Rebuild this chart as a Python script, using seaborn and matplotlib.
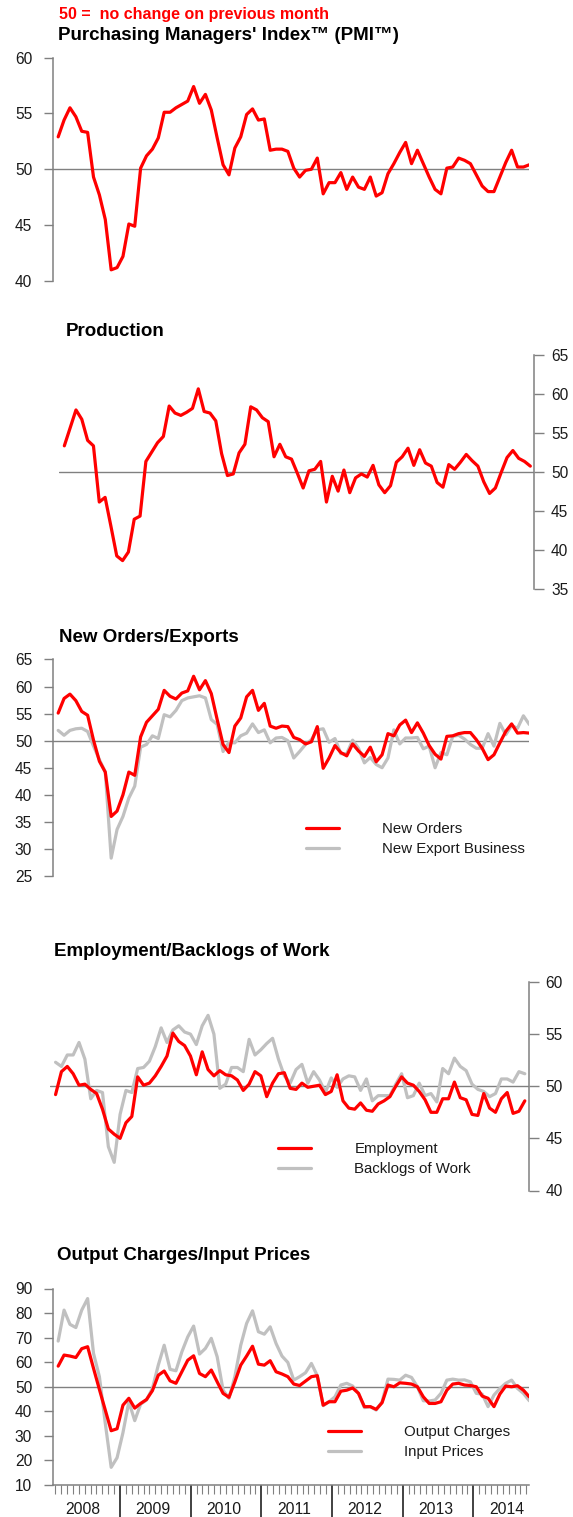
import numpy as np
import pandas as pd
import matplotlib
matplotlib.use("Agg")
import matplotlib.pyplot as plt
import matplotlib.transforms as mtransforms
import seaborn as sns

sns.set_style("white")
plt.rcParams["font.family"] = ["Liberation Sans", "DejaVu Sans"]

# monthly survey readings, Feb 2008 - Oct 2014
pmi = [52.9, 54.4, 55.5, 54.7, 53.4, 53.3, 49.3, 47.7, 45.5, 41.0, 41.2, 42.2,
       45.1, 44.9, 50.1, 51.2, 51.8, 52.8, 55.1, 55.1, 55.5, 55.8, 56.1, 57.4,
       55.9, 56.7, 55.3, 52.8, 50.4, 49.5, 51.9, 52.9, 54.9, 55.4, 54.4, 54.5,
       51.7, 51.8, 51.8, 51.6, 50.1, 49.3, 49.9, 50.0, 51.0, 47.8, 48.8, 48.8,
       49.7, 48.2, 49.3, 48.4, 48.2, 49.3, 47.6, 47.9, 49.6, 50.5, 51.5, 52.4,
       50.5, 51.7, 50.5, 49.3, 48.2, 47.8, 50.1, 50.2, 51.0, 50.8, 50.5, 49.5,
       48.5, 48.0, 48.0, 49.3, 50.6, 51.7, 50.2, 50.2, 50.4]
production = [53.3, 55.6, 57.9, 56.7, 54.0, 53.3, 46.1, 46.7, 43.0, 39.2, 38.6, 39.7,
              43.9, 44.3, 51.3, 52.5, 53.7, 54.5, 58.4, 57.5, 57.2, 57.6, 58.1, 60.6,
              57.7, 57.5, 56.5, 52.3, 49.5, 49.7, 52.4, 53.5, 58.3, 57.9, 56.9, 56.4,
              51.9, 53.5, 51.9, 51.6, 49.8, 47.9, 50.1, 50.3, 51.3, 46.1, 49.4, 47.5,
              50.2, 47.3, 49.2, 49.7, 49.3, 50.8, 48.3, 47.3, 48.2, 51.2, 51.9, 53.0,
              50.8, 52.8, 51.1, 50.7, 48.6, 48.0, 50.9, 50.3, 51.2, 52.2, 51.4, 50.7,
              48.7, 47.2, 47.9, 49.9, 51.8, 52.7, 51.7, 51.3, 50.7]
new_orders = [55.1, 57.8, 58.6, 57.4, 55.4, 54.7, 50.1, 46.2, 44.2, 36.0, 37.0, 40.0,
              44.2, 43.6, 50.7, 53.4, 54.6, 55.8, 59.3, 58.2, 57.7, 58.8, 59.2, 61.9,
              59.4, 61.1, 58.7, 53.9, 49.3, 47.8, 52.7, 54.2, 58.1, 59.3, 55.6, 56.9,
              52.7, 52.3, 52.7, 52.6, 50.6, 50.2, 49.4, 49.8, 52.6, 44.9, 46.8, 49.1,
              47.8, 47.2, 49.4, 48.1, 47.1, 48.8, 46.1, 47.4, 51.3, 50.9, 52.9, 53.8,
              51.5, 53.3, 51.4, 49.1, 47.5, 46.6, 50.8, 50.9, 51.3, 51.5, 51.5, 50.2,
              48.6, 46.5, 47.4, 49.6, 51.7, 53.1, 51.4, 51.5, 51.4]
new_exports = [51.9, 51.0, 51.9, 52.2, 52.3, 51.7, 49.0, 46.5, 44.2, 28.3, 33.6, 36.0,
               39.4, 41.6, 48.8, 49.3, 50.9, 50.4, 54.8, 54.4, 55.6, 57.4, 57.9, 58.1,
               58.3, 57.9, 53.9, 53.0, 48.0, 49.7, 49.6, 50.9, 51.4, 53.1, 51.5, 52.0,
               49.6, 50.5, 50.6, 50.0, 46.8, 48.0, 49.3, 50.2, 52.0, 52.2, 49.7, 50.4,
               47.6, 47.6, 50.1, 48.6, 45.9, 46.9, 45.6, 45.0, 46.8, 52.0, 49.4, 50.5,
               50.5, 50.6, 48.5, 49.0, 45.0, 47.8, 47.4, 50.8, 51.0, 50.3, 49.3, 48.6,
               48.6, 51.3, 49.0, 53.2, 51.1, 52.8, 52.3, 54.6, 53.0]
employment = [49.2, 51.4, 51.9, 51.2, 50.1, 50.2, 49.7, 49.3, 47.8, 45.9, 45.4, 45.0,
              46.5, 47.1, 50.9, 50.1, 50.3, 51.0, 51.9, 52.9, 55.1, 54.3, 53.9, 52.9,
              51.1, 53.3, 51.6, 51.0, 51.5, 51.1, 51.0, 50.6, 49.6, 50.2, 51.4, 51.0,
              49.0, 50.3, 51.2, 51.3, 49.8, 49.7, 50.3, 49.9, 50.0, 50.1, 49.2, 49.5,
              51.1, 48.6, 47.9, 47.8, 48.4, 47.7, 47.6, 48.3, 48.6, 49.0, 50.0, 50.9,
              50.3, 50.1, 49.5, 48.7, 47.5, 47.5, 48.8, 48.8, 50.4, 48.9, 48.7, 47.3,
              47.2, 49.3, 47.9, 47.5, 48.8, 49.4, 47.4, 47.6, 48.6]
backlogs = [52.3, 51.9, 53.0, 53.0, 54.2, 52.6, 48.8, 49.6, 49.4, 44.2, 42.7, 47.3,
            49.6, 49.4, 51.7, 51.8, 52.4, 53.8, 55.6, 54.2, 55.4, 55.8, 55.2, 55.0,
            54.0, 55.8, 56.8, 55.0, 49.8, 50.2, 51.8, 51.8, 51.4, 54.5, 53.0, 53.5,
            54.1, 54.6, 52.6, 51.0, 50.3, 51.6, 52.1, 50.3, 51.4, 50.6, 49.4, 50.8,
            49.9, 50.7, 51.0, 50.9, 49.6, 50.7, 48.6, 49.1, 49.1, 49.1, 50.2, 51.2,
            48.9, 49.1, 50.3, 49.1, 49.3, 48.5, 51.7, 51.2, 52.7, 51.9, 51.5, 50.2,
            49.7, 49.5, 49.0, 49.3, 50.7, 50.7, 50.4, 51.4, 51.2]
output_charges = [58.4, 62.9, 62.5, 61.9, 65.5, 66.3, 57.5, 48.9, 40.5, 32.1, 32.9, 42.5,
                  45.3, 41.3, 43.2, 44.8, 48.4, 54.7, 56.4, 52.4, 51.4, 56.1, 60.8, 62.6,
                  55.4, 54.1, 56.8, 52.0, 47.3, 45.7, 52.0, 58.8, 62.5, 66.5, 59.2, 58.8,
                  60.6, 56.1, 55.2, 54.1, 51.1, 50.5, 52.3, 54.1, 54.5, 42.5, 43.9, 43.9,
                  48.2, 48.6, 49.5, 47.3, 41.9, 41.9, 40.8, 43.5, 50.7, 50.0, 51.6, 51.4,
                  51.1, 50.0, 45.9, 43.2, 43.2, 43.9, 48.6, 51.1, 51.4, 50.7, 50.5, 50.0,
                  46.2, 45.3, 41.9, 47.0, 50.3, 50.0, 50.4, 48.6, 45.9]
input_prices = [68.6, 81.2, 75.4, 74.1, 81.2, 85.9, 63.6, 54.1, 35.1, 17.2, 21.1, 31.3,
                43.9, 36.2, 42.9, 44.6, 49.3, 58.8, 66.9, 57.1, 56.5, 64.2, 70.3, 74.7,
                63.3, 65.6, 69.7, 62.2, 48.6, 45.3, 54.1, 66.9, 75.8, 80.9, 72.4, 71.4,
                74.4, 67.6, 62.5, 59.9, 52.7, 54.1, 55.7, 59.5, 54.5, 42.3, 43.9, 45.9,
                50.7, 51.4, 50.3, 47.3, 41.5, 41.9, 40.5, 43.9, 53.1, 53.0, 52.7, 54.7,
                53.8, 50.0, 44.3, 44.2, 44.6, 47.3, 52.7, 53.1, 52.7, 52.8, 52.0, 47.3,
                47.0, 41.9, 46.6, 49.3, 51.4, 52.7, 49.3, 47.3, 44.3]
years = ["2008", "2009", "2010", "2011", "2012", "2013", "2014"]

RED = "#ff0000"
GREY = "#c0c0c0"
W, H = 573, 1517
XMIN, XMAX = 0.57, 81.5           # month index, Jan 2008 = 0
XMIN_R, XMAX_R = 0.62, 82.13      # right-axis panels run a little past the data
xpos = np.arange(len(pmi)) + 1.5  # data at month centres, first = Feb 2008

fig = plt.figure(figsize=(W / 100, H / 100), dpi=100)


def add_ax(left, right, top, bottom):
    return fig.add_axes([left / W, 1 - bottom / H, (right - left) / W, (bottom - top) / H])


def title(x, y, s, size=13.5, color="black"):
    fig.text(x / W, 1 - y / H, s, ha="left", va="center", fontsize=size,
             fontweight="bold", color=color)


def draw(ax, series, ylim, step, side):
    ax.axhline(50, color="#808080", lw=1.0, zorder=1)
    for lab, vals, col in series:
        df = pd.DataFrame({"x": xpos, "y": vals})
        sns.lineplot(data=df, x="x", y="y", ax=ax, color=col, linewidth=2.3,
                     label=lab, legend=False, zorder=3 if col == RED else 2)
    if side == "right":
        ax.set_xlim(XMIN_R, XMAX_R)
    else:
        ax.set_xlim(XMIN, XMAX)
    ax.set_ylim(*ylim)
    ax.set_yticks(np.arange(ylim[0], ylim[1] + 0.1, step))
    ax.set_xlabel("")
    ax.set_ylabel("")
    ax.set_xticks([])
    for s in ax.spines.values():
        s.set_visible(False)
    sp = ax.spines[side]
    sp.set_visible(True)
    sp.set_color("#808080")
    sp.set_linewidth(1.1)
    if side == "right":
        ax.yaxis.tick_right()
        ax.tick_params(axis="y", right=True, left=False, length=7.2, pad=5)
    else:
        ax.tick_params(axis="y", left=True, right=False, length=6.8, pad=8)
    ax.tick_params(axis="y", direction="out", width=1.0, color="#808080",
                   labelsize=11.2, labelcolor="#1a1a1a")
    ax.patch.set_alpha(0)


def legend(ax, x, y):
    h, l = ax.get_legend_handles_labels()
    red_first = sorted(range(len(h)), key=lambda i: h[i].get_color() != RED)
    leg = ax.legend([h[i] for i in red_first], [l[i] for i in red_first],
                    loc="upper left", bbox_to_anchor=(x / W, 1 - y / H),
                    bbox_transform=fig.transFigure, frameon=False, fontsize=10.8,
                    handlelength=2.2, handletextpad=2.9, labelspacing=0.4,
                    borderpad=0, borderaxespad=0)
    for t in leg.get_texts():
        t.set_color("#1a1a1a")


# Purchasing Managers' Index
title(59, 14, "50 =  no change on previous month", size=11.5, color=RED)
title(58, 36, "Purchasing Managers' Index\u2122 (PMI\u2122)")
ax1 = add_ax(52.7, 529.3, 57.5, 281)
draw(ax1, [(None, pmi, RED)], (40, 60), 5, "left")

# Production
title(66, 332, "Production")
ax2 = add_ax(59.2, 534, 354.5, 588.7)
draw(ax2, [(None, production, RED)], (35, 65), 5, "right")

# New Orders / Exports
title(59, 637, "New Orders/Exports")
ax3 = add_ax(52.7, 529.3, 659.5, 876)
draw(ax3, [("New Export Business", new_exports, GREY), ("New Orders", new_orders, RED)],
     (25, 65), 5, "left")
legend(ax3, 306, 822)

# Employment / Backlogs of Work
title(54, 951, "Employment/Backlogs of Work")
ax4 = add_ax(50.4, 528.5, 982, 1190.5)
draw(ax4, [("Backlogs of Work", backlogs, GREY), ("Employment", employment, RED)],
     (40, 60), 5, "right")
legend(ax4, 278, 1142)

# Output Charges / Input Prices
title(57, 1255, "Output Charges/Input Prices")
ax5 = add_ax(52.7, 529.3, 1288.5, 1485)
draw(ax5, [("Input Prices", input_prices, GREY), ("Output Charges", output_charges, RED)],
     (10, 90), 10, "left")
legend(ax5, 328, 1425)

# month ticks and year dividers under the last panel
ax5.spines["bottom"].set_visible(True)
ax5.spines["bottom"].set_color("#808080")
ax5.spines["bottom"].set_linewidth(1.1)
ax5.set_xticks(np.arange(12, 80, 12))
ax5.set_xticks(np.arange(1, 82), minor=True)
ax5.tick_params(axis="x", which="major", bottom=True, direction="out", length=24,
                width=1.3, color="#333333", labelbottom=False)
ax5.tick_params(axis="x", which="minor", bottom=True, direction="out", length=6.5,
                width=0.8, color="#808080")
ax5.set_xlim(XMIN, XMAX)
trans = mtransforms.blended_transform_factory(ax5.transData, fig.transFigure)
for i, yr in enumerate(years):
    ax5.text(12 * i + 5.6, 1 - 1509 / H, yr, transform=trans,
             ha="center", va="center", fontsize=11.3, color="#1a1a1a")

fig.savefig("out.png", dpi=100)
